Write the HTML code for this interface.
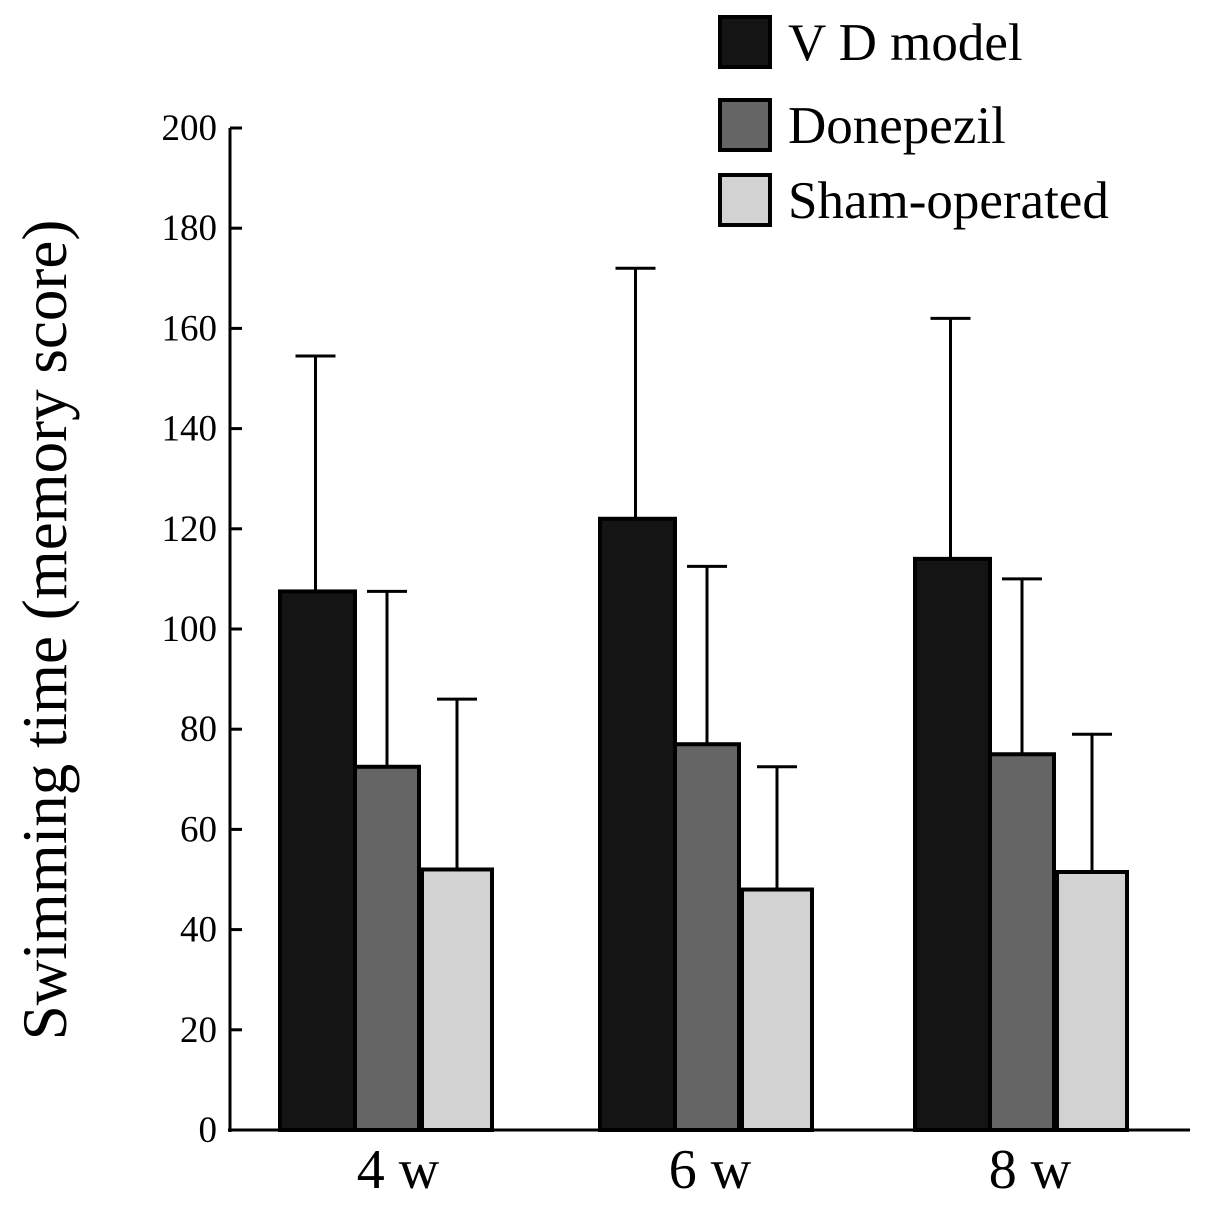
<!DOCTYPE html>
<html><head><meta charset="utf-8"><style>
html,body{margin:0;padding:0;background:#fff;}
svg{display:block;font-family:"Liberation Serif",serif;}
</style></head><body>
<svg id="chart" width="1205" height="1206">
<g id="axes"></g><g id="bars"></g><g id="legend"></g>
</svg>
<script>
const categories = ["4 w","6 w","8 w"];
const seriesNames = ["V D model","Donepezil","Sham-operated"];
const vdValues = [107.5,122,114];
const donValues = [72.5,77,75];
const shamValues = [52,48,51.5];
const vdErr = [154.5,172,162];
const donErr = [107.5,112.5,110];
const shamErr = [86,72.5,79];
const yTicks = [0,20,40,60,80,100,120,140,160,180,200];

const NS="http://www.w3.org/2000/svg";
const y0=1130, y1=128, yMax=200;
const yScale=v=>y0-(v/yMax)*(y0-y1);
const groupStarts=[280,600,915];
const labelCenters=[398,710,1030];
const widths=[75,64,70];
const fills=["#141414","#656565","#d2d2d2"];
function mk(tag,attrs,parent,text){const e=document.createElementNS(NS,tag);for(const k in attrs)e.setAttribute(k,attrs[k]);if(text!==undefined)e.textContent=text;parent.appendChild(e);return e;}
const axes=document.getElementById('axes'),bars=document.getElementById('bars'),legend=document.getElementById('legend');

let a=mk('line',{x1:230,y1:y1,x2:230,y2:y0+2,stroke:'#000','stroke-width':3},axes);


a=mk('line',{x1:228,y1:y0,x2:1190,y2:y0,stroke:'#000','stroke-width':3},axes);


yTicks.forEach(t=>{
  const y=yScale(t);
  const l=mk('line',{x1:230,y1:y,x2:242,y2:y,stroke:'#000','stroke-width':3},axes);
  
  
  const tx=mk('text',{x:217,y:y+12,'text-anchor':'end','font-size':37},axes,String(t));
  
  
});
const yt=mk('text',{x:0,y:0,'text-anchor':'middle','font-size':63,transform:'translate(66,630) rotate(-90)'},axes,'Swimming time (memory score)');



const vals=[vdValues,donValues,shamValues], errs=[vdErr,donErr,shamErr];
categories.forEach((c,i)=>{
  let x=groupStarts[i];
  vals.forEach((s,j)=>{
    const w=widths[j];
    const top=yScale(s[i]);
    const cx=x+w/2+(j===0?-2:0);
    const el=mk('line',{x1:cx,y1:yScale(errs[j][i]),x2:cx,y2:top,stroke:'#000','stroke-width':3},bars);
    
    
    const cap=mk('line',{x1:cx-20,y1:yScale(errs[j][i]),x2:cx+20,y2:yScale(errs[j][i]),stroke:'#000','stroke-width':3},bars);
    
    
    const r=mk('rect',{x:x,y:top,width:w,height:y0-top,fill:fills[j],stroke:'#000','stroke-width':4},bars);
    
    
    x+=w+(j===1?3:0);
  });
  const lb=mk('text',{x:labelCenters[i],y:1188,'text-anchor':'middle','font-size':56},axes,c);
  
  
});

const legY=[17,100,175];
seriesNames.forEach((n,j)=>{
  const r=mk('rect',{x:720,y:legY[j],width:50,height:50,fill:fills[j],stroke:'#000','stroke-width':4},legend);
  
  
  const t=mk('text',{x:788,y:legY[j]+43,'font-size':53},legend,n);
  
  
});
</script>
</body></html>
